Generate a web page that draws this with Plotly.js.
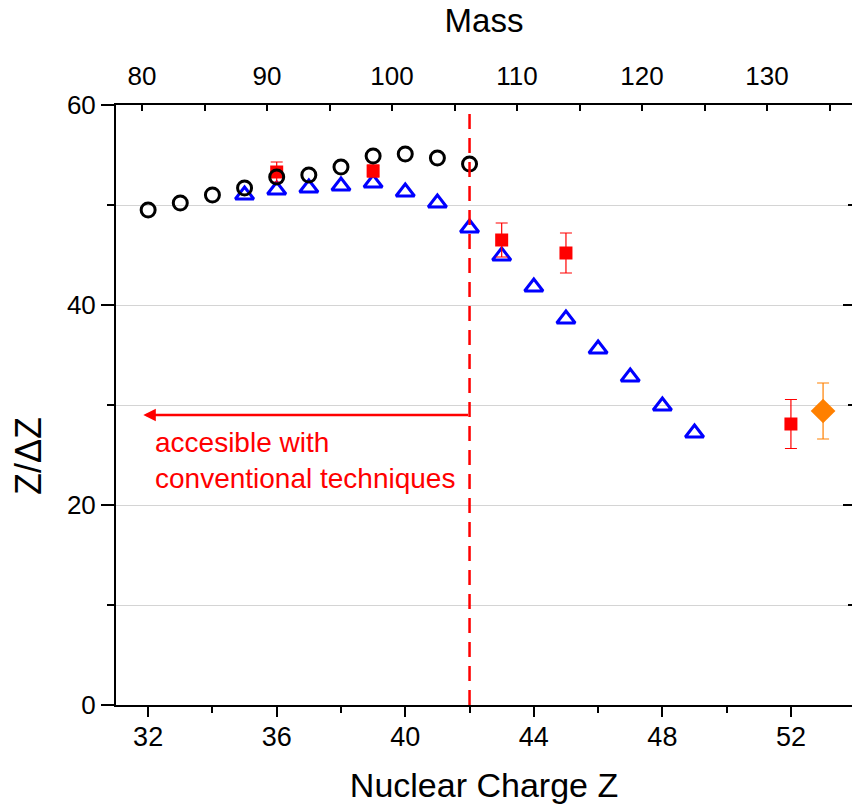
<!DOCTYPE html>
<html>
<head>
<meta charset="utf-8">
<script src="https://cdn.plot.ly/plotly-3.0.1.min.js"></script>
<style>html,body{margin:0;padding:0;background:#fff}#chart{width:852px;height:804px}</style>
</head>
<body>
<div id="chart"></div>
<script>
// ---- data ----
const zCircles = [32, 33, 34, 35, 36, 37, 38, 39, 40, 41, 42];
const circleVals = [49.5, 50.2, 51.0, 51.7, 52.8, 53.0, 53.8, 54.9, 55.1, 54.7, 54.1];

const zTriangles = [35, 36, 37, 38, 39, 40, 41, 42, 43, 44, 45, 46, 47, 48, 49];
const triangleVals = [51.0, 51.5, 51.7, 51.9, 52.2, 51.3, 50.2, 47.7, 44.9, 41.8, 38.6, 35.6, 32.8, 29.9, 27.2];

const zSquares = [36, 39, 43, 45, 52];
const squareVals = [53.3, 53.4, 46.5, 45.2, 28.1];
const squareErr = [1.0, 0.6, 1.7, 2.0, 2.45];

const zDiamond = [53];
const diamondVals = [29.4];
const diamondErr = [2.8];

const thresholdZ = 42;
const arrowY = 29;
const arrowHeadZ = 31.85;
const noteText = "accesible with<br>conventional techniques";

const xTitle = "Nuclear Charge Z";
const yTitle = "Z/ΔZ";
const topTitle = "Mass";

// ---- chart ----
const FONT = "Liberation Sans, Arial, Helvetica, sans-serif";

const traces = [
  {x: zTriangles, y: triangleVals, type: 'scatter', mode: 'markers',
   marker: {symbol: 'triangle-up-open', size: 16, color: '#0000ff', line: {width: 3, color: '#0000ff'}},
   showlegend: false},
  {x: zSquares, y: squareVals, type: 'scatter', mode: 'markers',
   marker: {symbol: 'square', size: 13, color: '#ff0000'},
   error_y: {type: 'data', array: squareErr, visible: true, color: '#ff0000', thickness: 1.2, width: 6},
   showlegend: false},
  {x: zCircles, y: circleVals, type: 'scatter', mode: 'markers',
   marker: {symbol: 'circle-open', size: 14, color: '#000000', line: {width: 3, color: '#000000'}},
   showlegend: false},
  {x: zDiamond, y: diamondVals, type: 'scatter', mode: 'markers',
   marker: {symbol: 'diamond', size: 19, color: '#ff8000'},
   error_y: {type: 'data', array: diamondErr, visible: true, color: '#ff8000', thickness: 1.2, width: 6},
   showlegend: false},
  {x: [], y: [], xaxis: 'x2', yaxis: 'y2', type: 'scatter', mode: 'markers', showlegend: false, hoverinfo: 'skip'}
];

const layout = {
  width: 852, height: 804,
  margin: {l: 116, r: 0, t: 105, b: 99},
  paper_bgcolor: '#ffffff', plot_bgcolor: '#ffffff',
  font: {family: FONT, color: '#000000'},
  xaxis: {
    range: [31.0, 53.9], tick0: 32, dtick: 4,
    ticks: 'outside', ticklen: 10, tickwidth: 2, tickcolor: '#000',
    minor: {dtick: 2, tick0: 32, ticks: 'outside', ticklen: 6, tickwidth: 2, tickcolor: '#000', showgrid: false},
    showline: true, linewidth: 2, linecolor: '#000',
    showgrid: false, zeroline: false,
    tickfont: {family: FONT, size: 27, color: '#000'},
    ticklabelstandoff: -3,
    title: {text: xTitle, font: {family: FONT, size: 34, color: '#000'}, standoff: 22}
  },
  xaxis2: {
    overlaying: 'x', side: 'top', anchor: 'y',
    range: [77.92, 136.8], tick0: 80, dtick: 10,
    ticks: 'inside', ticklen: 6, tickwidth: 2, tickcolor: '#000',
    minor: {dtick: 5, tick0: 80, ticks: 'inside', ticklen: 6, tickwidth: 2, tickcolor: '#000', showgrid: false},
    showline: true, linewidth: 2, linecolor: '#000',
    showgrid: false, zeroline: false,
    tickfont: {family: FONT, size: 26, color: '#000'},
    ticklabelstandoff: 8,
    title: {text: topTitle, font: {family: FONT, size: 33, color: '#000'}, standoff: 18}
  },
  yaxis: {
    range: [0, 60], tick0: 0, dtick: 20,
    ticks: 'outside', ticklen: 13, tickwidth: 2, tickcolor: '#000',
    minor: {dtick: 10, tick0: 0, ticks: 'outside', ticklen: 7, tickwidth: 2, tickcolor: '#000',
            showgrid: true, gridcolor: '#d4d4d4', gridwidth: 1},
    showline: true, linewidth: 2, linecolor: '#000',
    showgrid: true, gridcolor: '#d4d4d4', gridwidth: 1, zeroline: false,
    tickfont: {family: FONT, size: 26, color: '#000'}
  },
  yaxis2: {
    overlaying: 'y', side: 'right', anchor: 'x',
    range: [0, 60], tick0: 0, dtick: 20,
    ticks: 'inside', ticklen: 9, tickwidth: 2, tickcolor: '#000',
    minor: {dtick: 10, tick0: 0, ticks: 'inside', ticklen: 4, tickwidth: 2, tickcolor: '#000', showgrid: false},
    showline: false, showgrid: false, zeroline: false, showticklabels: false
  },
  shapes: [
    {type: 'line', xref: 'x', yref: 'paper', x0: thresholdZ, x1: thresholdZ, y0: 0, y1: 1,
     line: {color: '#ff0000', width: 2.5, dash: '15px,9px'}, layer: 'above'}
  ],
  annotations: [
    {xref: 'x', yref: 'y', axref: 'x', ayref: 'y',
     x: arrowHeadZ, y: arrowY, ax: thresholdZ, ay: arrowY, text: '',
     showarrow: true, arrowhead: 2, arrowsize: 1.0, arrowwidth: 2.5, arrowcolor: '#ff0000'},
    {xref: 'x', yref: 'y', x: 32.15, y: arrowY - 1.0, xanchor: 'left', yanchor: 'top', align: 'left',
     text: noteText, showarrow: false,
     font: {family: FONT, size: 28, color: '#ff0000'}},
    {xref: 'paper', yref: 'paper', x: 0, y: 0.415, xanchor: 'center', yanchor: 'middle',
     xshift: -88, textangle: -90, text: yTitle, showarrow: false,
     font: {family: FONT, size: 36, color: '#000'}}
  ]
};

Plotly.newPlot('chart', traces, layout, {displayModeBar: false, staticPlot: true});
</script>
</body>
</html>
